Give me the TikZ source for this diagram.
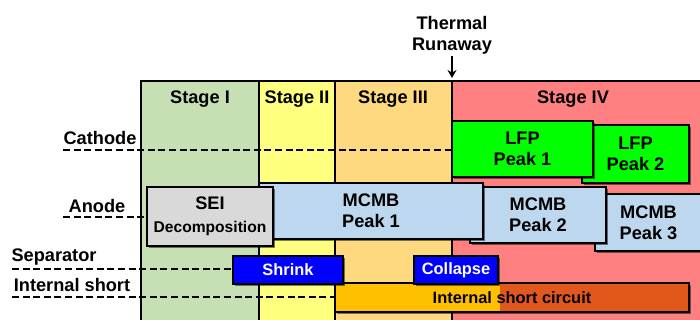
\documentclass[tikz,border=0pt]{standalone}
\usepackage{fontspec}
\setmainfont{Liberation Sans}
\usetikzlibrary{arrows.meta,calc,shadows}
\definecolor{StageOne}{HTML}{C6E0B4}
\definecolor{StageTwo}{HTML}{FFFF80}
\definecolor{StageThree}{HTML}{FFD980}
\definecolor{StageFour}{HTML}{FF8080}
\definecolor{LfpGreen}{HTML}{00FF00}
\definecolor{McmbBlue}{HTML}{BDD7EE}
\definecolor{SeiGray}{HTML}{D9D9D9}
\definecolor{SepBlue}{HTML}{0000FF}
\definecolor{ShortLight}{HTML}{FFC000}
\definecolor{ShortDark}{HTML}{E2581C}
\tikzset{
  bigfont/.style={font=\bfseries\fontsize{9.1}{10.5}\selectfont},
  smallfont/.style={font=\bfseries\fontsize{8.2}{10}\selectfont},
  peak/.style={draw,line width=1pt,align=center,inner sep=0pt,
    drop shadow={shadow xshift=0.9pt,shadow yshift=-0.9pt,fill=black,opacity=0.5}},
  layerline/.style={dash pattern=on 3.5pt off 1.8pt,line width=0.9pt},
}

\begin{document}
\begin{tikzpicture}[x=0.5pt,y=-0.5pt,>=Stealth]
  \useasboundingbox (0,0) rectangle (700,320);
  % stage columns
  \foreach \xa/\xb/\col/\xl/\name/\lab in {141/259/StageOne/200/st1/Stage I,
      259/335/StageTwo/297/st2/Stage II,335/452/StageThree/393/st3/Stage III,
      452/700/StageFour/573/st4/Stage IV}{
    \fill[\col] (\xa,81) rectangle (\xb,320);
    \node[bigfont] (\name) at (\xl,99) {\lab};
  }
  \foreach \x in {259,335,452}
    \draw[line width=1pt] (\x,81) -- (\x,320);
  \draw[line width=1.3pt] (141,320) |- (700,81);

  % thermal runaway
  \node[bigfont,align=center,inner sep=1pt] (tr) at (452,35) {Thermal\\Runaway};
  \coordinate (trtip) at (452,78);
  \draw[-{Stealth[length=4pt,width=4.5pt]},line width=1pt] (tr) -- (trtip);

  % reaction boxes
  \node[peak,fill=McmbBlue,bigfont,minimum width=53.5pt,minimum height=28.5pt] (mcmb3) at (648.5,222.5) {MCMB\\Peak 3};
  \node[peak,fill=McmbBlue,bigfont,minimum width=68pt,minimum height=28pt] (mcmb2) at (538,215) {MCMB\\Peak 2};
  \node[peak,fill=McmbBlue,bigfont,minimum width=112pt,minimum height=28pt] (mcmb1) at (371,211) {MCMB\\Peak 1};
  \node[peak,fill=SeiGray,bigfont,minimum width=63pt,minimum height=29.5pt] (sei) at (210,216.5)
    {SEI\\[1pt]{\fontsize{7.8}{9}\selectfont Decomposition}};
  \node[peak,fill=LfpGreen,bigfont,minimum width=53.5pt,minimum height=29pt] (lfp2) at (635.5,154) {LFP\\Peak 2};
  \node[peak,fill=LfpGreen,bigfont,minimum width=70.5pt,minimum height=28pt] (lfp1) at (522.5,149) {LFP\\Peak 1};
  \node[peak,fill=ShortLight,smallfont,minimum width=177pt,minimum height=14.5pt,
    path picture={\fill[ShortDark] ($(path picture bounding box.south west)!0.466!(path picture bounding box.south east)$)
      rectangle (path picture bounding box.north east);}] (short) at (512,297.5) {Internal short circuit};
  \node[peak,fill=SepBlue,text=white,smallfont,minimum width=55pt,minimum height=14pt] (shrink) at (288,270) {Shrink};
  \node[peak,fill=SepBlue,text=white,smallfont,minimum width=42pt,minimum height=14pt] (collapse) at (456,270) {Collapse};

  % component rows
  \node[bigfont] (cathode) at (100,138) {Cathode};
  \node[bigfont] (anode) at (97,206) {Anode};
  \node[bigfont] (separator) at (54,257) {Separator};
  \node[bigfont] (intshort) at (72,285) {Internal short};
  \coordinate (catstart) at (63,150);
  \coordinate (anostart) at (63,217);
  \coordinate (sepstart) at (12,269);
  \coordinate (isstart) at (12,297);
  \draw[layerline] (catstart) -- (catstart -| lfp1.west);
  \draw[layerline] (anostart) -- (anostart -| sei.west);
  \draw[layerline] (sepstart) -- (sepstart -| shrink.west);
  \draw[layerline] (isstart) -- (isstart -| short.west);
\end{tikzpicture}
\end{document}
